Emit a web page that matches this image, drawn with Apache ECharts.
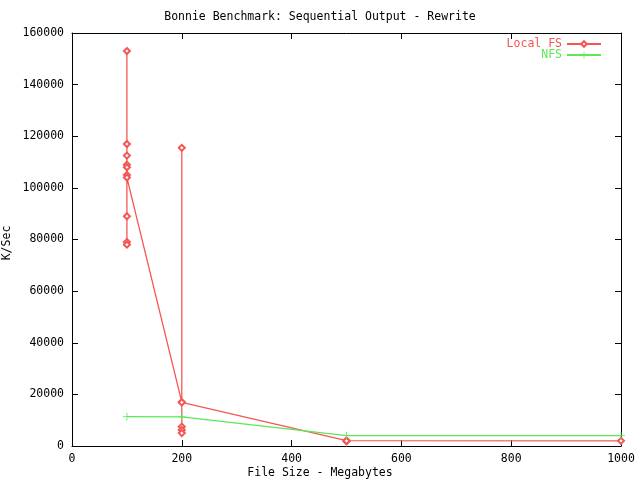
<!DOCTYPE html>
<html><head><meta charset="utf-8">
<script src="https://cdn.jsdelivr.net/npm/echarts@6/dist/echarts.min.js"></script>
<style>html,body{margin:0;padding:0;background:#fff}#c{width:640px;height:480px}</style>
</head><body><div id="c"></div>
<script>
const titleText = 'Bonnie Benchmark: Sequential Output - Rewrite';
const xName = 'File Size - Megabytes';
const yName = 'K/Sec';
const seriesNames = ['Local FS', 'NFS'];
const localX = [100, 100, 100, 100, 100, 100, 100, 100, 100, 100,
                200, 200, 200, 200, 200, 200,
                500, 500, 500,
                1000];
const localY = [153000, 117000, 112500, 109000, 108000, 105000, 89000, 79000, 78000, 104000,
                17000, 115500, 7500, 6200, 5000, 16900,
                2100, 1800, 2000,
                2000];
const nfsX = [100, 200, 500, 1000];
const nfsY = [11350, 11300, 4000, 4000];
const xTicks = [0, 200, 400, 600, 800, 1000];
const yTicks = [0, 20000, 40000, 60000, 80000, 100000, 120000, 140000, 160000];

const FONT = 'DejaVu Sans Mono';
const RED = '#f55555';
const GREEN = '#5ee855';

const chart = echarts.init(document.getElementById('c'), null, {renderer: 'canvas'});
const axisCommon = {
  type: 'value',
  axisLine: {show: true, onZero: false, lineStyle: {color: '#000', width: 1}},
  axisTick: {show: true, inside: true, length: 6, lineStyle: {color: '#000'}},
  splitLine: {show: false}
};
const fmt = v => String(v);
chart.setOption({
  animation: false,
  backgroundColor: '#fff',
  title: {text: titleText, left: 'center', top: 6,
    textStyle: {fontFamily: FONT, fontSize: 11.5, fontWeight: 'normal', color: '#000'}},
  grid: {left: 72, right: 19, top: 33, bottom: 34},
  legend: [
    {data: [seriesNames[0]], right: 33, top: 33, align: 'right', itemWidth: 34, itemHeight: 7, itemGap: 8,
      textStyle: {fontFamily: FONT, fontSize: 11.5, color: RED}},
    {data: [seriesNames[1]], right: 33, top: 44, align: 'right', itemWidth: 34, itemHeight: 9, itemGap: 8,
      textStyle: {fontFamily: FONT, fontSize: 11.5, color: GREEN}}
  ],
  xAxis: [
    Object.assign({}, axisCommon, {min: xTicks[0], max: xTicks[xTicks.length - 1], interval: xTicks[1] - xTicks[0],
      position: 'bottom',
      axisLabel: {fontFamily: FONT, fontSize: 11.5, color: '#000', margin: 7, formatter: fmt}}),
    Object.assign({}, axisCommon, {min: xTicks[0], max: xTicks[xTicks.length - 1], interval: xTicks[1] - xTicks[0],
      position: 'top', axisLabel: {show: false}})
  ],
  yAxis: [
    Object.assign({}, axisCommon, {min: yTicks[0], max: yTicks[yTicks.length - 1], interval: yTicks[1] - yTicks[0],
      position: 'left',
      axisLabel: {fontFamily: FONT, fontSize: 11.5, color: '#000', margin: 8, formatter: fmt}}),
    Object.assign({}, axisCommon, {min: yTicks[0], max: yTicks[yTicks.length - 1], interval: yTicks[1] - yTicks[0],
      position: 'right', axisLabel: {show: false}})
  ],
  graphic: [
    {type: 'text', left: 'center', top: 467, style: {text: xName, font: '11.5px ' + FONT, fill: '#000'}},
    {type: 'text', x: 7, y: 243, rotation: Math.PI / 2, style: {text: yName, font: '11.5px ' + FONT, fill: '#000', align: 'center', verticalAlign: 'middle'}}
  ],
  series: [
    {name: seriesNames[0], type: 'line', xAxisIndex: 0, yAxisIndex: 0,
      data: localX.map((x, i) => [x, localY[i]]),
      symbol: 'emptyDiamond', symbolSize: 6, showSymbol: true, showAllSymbol: true,
      color: RED, lineStyle: {color: RED, width: 1.3}, itemStyle: {color: RED, borderWidth: 1}},
    {name: seriesNames[1], type: 'line', xAxisIndex: 0, yAxisIndex: 0,
      data: nfsX.map((x, i) => [x, nfsY[i]]),
      symbol: 'path://M4.5,0h1v4.5h4.5v1h-4.5v4.5h-1v-4.5h-4.5v-1h4.5z', symbolSize: 8, showSymbol: true, showAllSymbol: true,
      color: GREEN, lineStyle: {color: GREEN, width: 1.3}, itemStyle: {color: GREEN}}
  ]
});
</script>
</body></html>
